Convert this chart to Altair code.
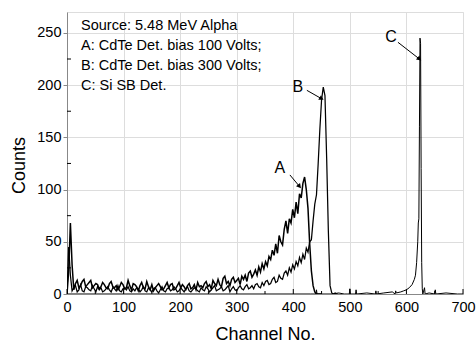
import altair as alt
import pandas as pd

# ---------------- data ----------------
# Trace A: CdTe 100 V, channels 0..450 step 3
A_counts = [
    0, 22, 68, 28, 4, 10, 13, 6, 8, 12,
    14, 7, 9, 11, 13, 6, 8, 10, 9, 5,
    7, 11, 9, 6, 5, 10, 12, 7, 6, 8,
    4, 7, 11, 9, 5, 6, 13, 8, 4, 10,
    9, 7, 3, 8, 11, 6, 5, 12, 7, 4,
    9, 3, 6, 8, 10, 7, 4, 5, 8, 11,
    6, 9, 10, 4, 5, 8, 11, 6, 9, 7,
    4, 8, 10, 5, 6, 9, 4, 11, 7, 8,
    6, 10, 12, 7, 9, 5, 13, 10, 8, 14,
    9, 7, 15, 17, 10, 12, 8, 14, 16, 11,
    13, 15, 9, 17, 14, 18, 12, 20, 22, 16,
    19, 23, 18, 26, 21, 29, 24, 31, 27, 36,
    33, 42, 37, 48, 39, 56, 50, 47, 62, 70,
    58, 72, 68, 81, 73, 88, 77, 96, 92, 106,
    112, 100, 82, 48, 22, 8, 2, 0, 0, 0,
    0,
]
A_channels = list(range(0, 451, 3))

# Trace B: CdTe 300 V, channels 0..480 step 3
B_counts = [
    0, 45, 18, 3, 6, 8, 2, 4, 9, 3,
    2, 7, 6, 4, 3, 8, 5, 2, 7, 4,
    6, 2, 3, 5, 7, 4, 2, 6, 5, 3,
    8, 3, 2, 5, 6, 4, 7, 3, 2, 5,
    3, 6, 5, 2, 4, 7, 3, 2, 6, 4,
    2, 5, 6, 3, 1, 4, 7, 3, 2, 5,
    6, 3, 4, 7, 5, 2, 3, 6, 4, 2,
    5, 7, 3, 2, 4, 6, 5, 3, 2, 6,
    4, 3, 7, 5, 2, 4, 6, 8, 3, 4,
    5, 7, 3, 4, 6, 8, 2, 5, 7, 4,
    3, 6, 8, 5, 4, 7, 9, 5, 6, 8,
    5, 9, 10, 7, 6, 11, 8, 12, 13, 9,
    10, 14, 16, 11, 12, 18, 15, 14, 20, 22,
    18, 25, 21, 28, 24, 31, 27, 35, 30, 38,
    33, 44, 40, 50, 52, 70, 86, 95, 125, 158,
    186, 198, 190, 130, 60, 8, 1, 0, 1, 0,
    0,
]
B_channels = list(range(0, 481, 3))

# Trace C: Si surface barrier detector
C_channels = [0, 50, 100, 150, 200, 250, 300, 350, 400, 430, 440, 441, 442,
              470, 480, 490, 499, 500, 501, 510, 511, 512, 530, 545, 546, 547,
              560, 575, 580, 581, 582, 590, 595, 600, 605, 610, 614, 616, 618,
              620, 621, 622, 623, 624, 625, 626, 627, 628, 629, 630, 632, 633,
              640, 650, 651, 652, 670, 690, 700]
C_counts = [0, 0, 0, 0, 0, 0, 0, 0, 0, 0, 0, 4, 0,
            0, 1, 0, 0, 5, 0, 0, 4, 0, 1, 0, 3, 0,
            1, 2, 0, 3, 1, 2, 3, 4, 6, 9, 14, 18, 30,
            50, 68, 72, 160, 245, 240, 120, 30, 5, 0, 2, 6, 0,
            1, 0, 4, 0, 1, 0, 0]

series_names = ["A", "B", "C"]
series_widths = [1.5, 1.0, 1.0]

# Text block
info_lines = ["Source: 5.48 MeV Alpha", "A: CdTe Det. bias 100 Volts;",
              "B: CdTe Det. bias 300 Volts;", "C: Si SB Det."]

# Peak annotations (data coordinates)
ann_label = ["A", "B", "C"]
ann_text_x = [376, 408, 573]
ann_text_y = [121, 198, 246]
ann_x0 = [394, 424, 585]
ann_y0 = [114, 195, 241]
ann_x1 = [411, 450, 623]
ann_y1 = [103, 187, 225]
ann_angle = [140, 121, 129]

x_ticks = [0, 100, 200, 300, 400, 500, 600, 700]
x_minor = [50, 150, 250, 350, 450, 550, 650]
y_ticks = [0, 50, 100, 150, 200, 250]
y_minor = [25, 75, 125, 175, 225]

# ---------------- build tables ----------------
rows = []
for ch, v in zip(A_channels, A_counts):
    rows.append({"series": "A", "channel": ch, "counts": v, "order": ch})
for ch, v in zip(B_channels, B_counts):
    rows.append({"series": "B", "channel": ch, "counts": v, "order": ch})
for ch, v in zip(C_channels, C_counts):
    rows.append({"series": "C", "channel": ch, "counts": v, "order": ch})
df = pd.DataFrame(rows)

ann = pd.DataFrame({"label": ann_label, "tx": ann_text_x, "ty": ann_text_y,
                    "x0": ann_x0, "y0": ann_y0, "x1": ann_x1, "y1": ann_y1,
                    "angle": ann_angle})

FONT = "Liberation Sans"
W, H = 396, 282

xscale = alt.Scale(domain=[0, 700], nice=False, zero=False)
yscale = alt.Scale(domain=[0, 270], nice=False)

lines = alt.Chart(df).mark_line(color="black", clip=True).encode(
    x=alt.X("channel:Q", scale=xscale,
            axis=alt.Axis(values=x_ticks, title="Channel No.", ticks=False,
                          labelFlush=False, labelOverlap=False,
                          labelPadding=6, labelFontSize=14.5, titleFontSize=18,
                          titleFontWeight="normal", titleX=198, titleY=40,
                          titleBaseline="middle", titleAlign="center")),
    y=alt.Y("counts:Q", scale=yscale,
            axis=alt.Axis(values=y_ticks, title="Counts", tickSize=4,
                          labelFlush=False, labelOverlap=False,
                          labelPadding=2, labelFontSize=14.5, titleFontSize=18,
                          titleFontWeight="normal", titleX=-48, titleY=153,
                          titleBaseline="middle", titleAlign="center",
                          titleAngle=270)),
    detail="series:N",
    order="order:Q",
    strokeWidth=alt.StrokeWidth("series:N",
                                scale=alt.Scale(domain=series_names, range=series_widths),
                                legend=None),
)

xt_major = alt.Chart(pd.DataFrame({"v": x_ticks})).mark_rule(color="black").encode(
    x=alt.X("v:Q", scale=xscale), y=alt.value(H), y2=alt.value(H - 5))
xt_minor = alt.Chart(pd.DataFrame({"v": x_minor})).mark_rule(color="black").encode(
    x=alt.X("v:Q", scale=xscale), y=alt.value(H), y2=alt.value(H - 3))
yt_minor = alt.Chart(pd.DataFrame({"v": y_minor})).mark_rule(color="black").encode(
    y=alt.Y("v:Q", scale=yscale), x=alt.value(0), x2=alt.value(4))

info = alt.Chart(pd.DataFrame({"k": [0]})).mark_text(
    text=info_lines, align="left", baseline="top", fontSize=14.5, font=FONT,
    lineHeight=20, color="black").encode(x=alt.value(14), y=alt.value(7))

ann_text = alt.Chart(ann).mark_text(fontSize=16, font=FONT, color="black").encode(
    x=alt.X("tx:Q", scale=xscale), y=alt.Y("ty:Q", scale=yscale), text="label:N")
ann_rule = alt.Chart(ann).mark_rule(color="black", strokeWidth=1).encode(
    x=alt.X("x0:Q", scale=xscale), y=alt.Y("y0:Q", scale=yscale),
    x2="x1:Q", y2="y1:Q")
ann_head = alt.Chart(ann).mark_point(shape="triangle-up", filled=True, size=28,
                                     color="black", opacity=1).encode(
    x=alt.X("x1:Q", scale=xscale), y=alt.Y("y1:Q", scale=yscale),
    angle=alt.Angle("angle:Q", scale=None))

chart = alt.layer(lines, xt_major, xt_minor, yt_minor, info, ann_rule, ann_head, ann_text).properties(
    width=W, height=H,
    autosize=alt.AutoSizeParams(type="none"),
    padding={"left": 67, "top": 12, "right": 13, "bottom": 49},
).configure_view(stroke=None).configure_axis(
    grid=False, domainColor="black", domainWidth=1, tickColor="black",
    labelColor="black", titleColor="black", labelFont=FONT, titleFont=FONT,
).configure(background="white")

chart.save("out.html", embed_options={"renderer": "svg", "actions": False})
